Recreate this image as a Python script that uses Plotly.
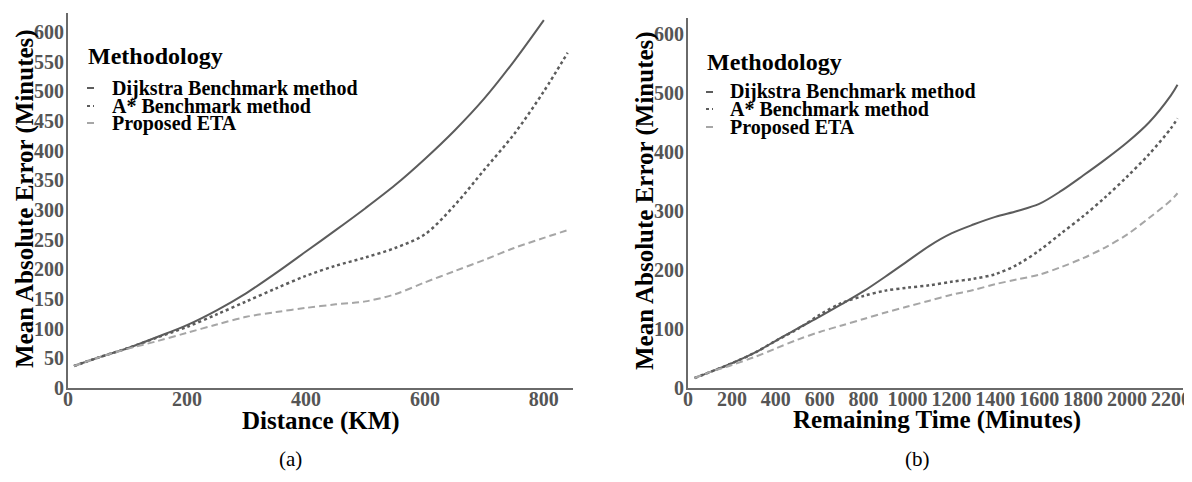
import plotly.graph_objects as go

# ---------------- data ----------------
# Panel (a): Distance (KM)
a_dist_dij = [10, 50, 100, 150, 200, 250, 300, 350, 400, 450, 500, 550, 600, 650, 700, 750, 800]
a_dijkstra = [37, 51, 67, 86, 106, 131, 160, 194, 230, 266, 303, 342, 386, 434, 488, 551, 620]
a_dist = [10, 50, 100, 150, 200, 250, 300, 350, 400, 450, 500, 550, 600, 650, 700, 750, 800, 840]
a_astar = [37, 51, 67, 85, 103, 124, 146, 168, 189, 206, 220, 236, 259, 308, 368, 428, 500, 565]
a_eta = [37, 51, 66, 79, 93, 107, 120, 128, 135, 141, 146, 158, 178, 197, 216, 236, 253, 266]

# Panel (b): Remaining Time (Minutes)
b_time = [30, 100, 200, 300, 400, 500, 600, 700, 800, 900, 1000, 1100, 1200, 1300, 1400,
          1500, 1600, 1700, 1800, 1900, 2000, 2100, 2200, 2230]
b_dijkstra = [17, 27, 42, 59, 80, 101, 121, 142, 164, 189, 215, 241, 262, 277, 290,
              300, 312, 334, 360, 387, 416, 450, 496, 514]
b_astar = [17, 27, 42, 59, 80, 100, 124, 144, 156, 165, 170, 174, 180, 185, 193,
           209, 233, 262, 291, 323, 358, 396, 440, 457]
b_eta = [17, 27, 39, 52, 67, 82, 95, 106, 117, 128, 138, 148, 158, 166, 176,
         184, 192, 205, 220, 238, 260, 288, 318, 330]

series_names = ["Dijkstra Benchmark method", "A* Benchmark method", "Proposed ETA"]
legend_title = "Methodology"
a_xticks = [0, 200, 400, 600, 800]
a_yticks = list(range(0, 601, 50))
b_xticks = list(range(0, 2201, 200))
b_yticks = list(range(0, 601, 100))

# ---------------- styling ----------------
OFF = 8                      # page body margin of the html page
W, H = 1192 - OFF, 482 - OFF
SERIF = "Liberation Serif, Times New Roman, serif"
styles = [
    dict(color="#5c5c5c", width=2, dash="solid"),
    dict(color="#5c5c5c", width=2.5, dash="dot"),
    dict(color="#a6a6a6", width=2, dash="7px,4px"),
]

def px(x):
    return (x - OFF) / W

def py(y):
    return (H - (y - OFF)) / H

fig = go.Figure()

panel_a = [(a_dist_dij, a_dijkstra), (a_dist, a_astar), (a_dist, a_eta)]
panel_b = [(b_time, b_dijkstra), (b_time, b_astar), (b_time, b_eta)]

for (xs, ys), st, nm in zip(panel_a, styles, series_names):
    fig.add_trace(go.Scatter(x=xs, y=ys, mode="lines", name=nm, line=dict(**st, shape="spline", smoothing=0.9),
                             xaxis="x", yaxis="y", showlegend=False))
for (xs, ys), st, nm in zip(panel_b, styles, series_names):
    fig.add_trace(go.Scatter(x=xs, y=ys, mode="lines", name=nm, line=dict(**st, shape="spline", smoothing=0.9),
                             xaxis="x2", yaxis="y2", showlegend=False))

tickfont = dict(family=SERIF, size=20, color="#555555", weight="bold")
axis_common = dict(showline=True, linecolor="#6a6a6a", linewidth=2, showgrid=False, zeroline=False,
                   ticks="", tickfont=tickfont, automargin=False, fixedrange=True)

fig.update_layout(
    width=W, height=H,
    margin=dict(l=0, r=0, t=0, b=0),
    paper_bgcolor="white", plot_bgcolor="white",
    showlegend=False,
    xaxis=dict(domain=[px(68), px(573)], range=[0, 849], tickvals=a_xticks, anchor="y",
               ticklabelstandoff=-8, **axis_common),
    yaxis=dict(domain=[py(388), py(13)], range=[0, 632], tickvals=a_yticks, anchor="x",
               ticklabelstandoff=-2, **axis_common),
    xaxis2=dict(domain=[px(688), px(1183)], range=[0, 2255], tickvals=b_xticks, anchor="y2",
                ticklabelstandoff=-8, **axis_common),
    yaxis2=dict(domain=[py(388), py(18)], range=[0, 627], tickvals=b_yticks, anchor="x2",
                ticklabelstandoff=-2, **axis_common),
)

ann = []
title_font = dict(family=SERIF, size=25, color="black", weight="bold")
# axis titles
ann.append(dict(text="Mean Absolute Error (Minutes)", x=px(25), y=py(199), textangle=-90, font=title_font))
ann.append(dict(text="Mean Absolute Error (Minutes)", x=px(645), y=py(201), textangle=-90, font=title_font))
ann.append(dict(text="Distance (KM)", x=px(321), y=py(421), font=title_font))
ann.append(dict(text="Remaining Time (Minutes)", x=px(937), y=py(420), font=title_font))
# captions
cap_font = dict(family=SERIF, size=21, color="black")
ann.append(dict(text="(a)", x=px(290), y=py(459), font=cap_font))
ann.append(dict(text="(b)", x=px(917), y=py(459), font=cap_font))

shapes = []
# custom legends
legends = [
    dict(tx=86, ty=56, ex=110, eys=[88, 106, 123], sx=87),
    dict(tx=705, ty=62, ex=728, eys=[92, 109, 127], sx=706),
]
for lg in legends:
    ann.append(dict(text=legend_title, x=px(lg["tx"]), y=py(lg["ty"]), xanchor="left",
                    font=dict(family=SERIF, size=24, color="black", weight="bold")))
    for nm, ey, st in zip(series_names, lg["eys"], styles):
        ann.append(dict(text=nm, x=px(lg["ex"]), y=py(ey), xanchor="left",
                        font=dict(family=SERIF, size=20, color="black", weight="bold")))
        shapes.append(dict(type="line", xref="paper", yref="paper",
                           x0=px(lg["sx"]), x1=px(lg["sx"] + 7), y0=py(ey), y1=py(ey),
                           line=dict(color=st["color"], width=2,
                                     dash="dot" if st["dash"] == "dot" else "solid")))

for a in ann:
    a.setdefault("xanchor", "center")
    a.update(xref="paper", yref="paper", yanchor="middle", showarrow=False)

fig.update_layout(annotations=ann, shapes=shapes)

fig.write_html("out.html")
